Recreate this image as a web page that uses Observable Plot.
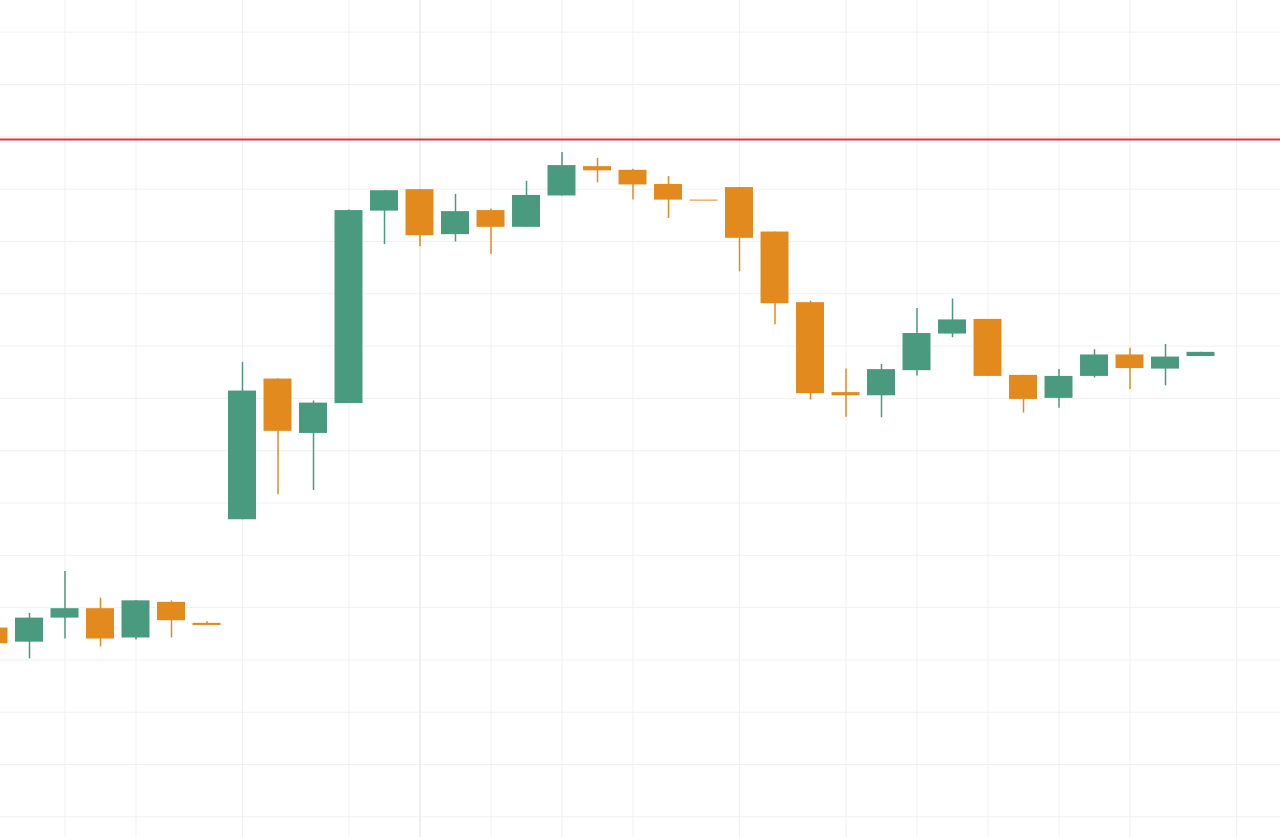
<!DOCTYPE html>
<html>
<head>
<meta charset="utf-8">
<script src="https://cdn.jsdelivr.net/npm/d3@7"></script>
<script src="https://cdn.jsdelivr.net/npm/@observablehq/plot@0.6"></script>
<style>
  html, body { margin: 0; padding: 0; background: #ffffff; }
  #chart svg { display: block; }
</style>
</head>
<body>
<div id="chart"></div>
<script>
// Candle index (evenly spaced sessions)
const idx    = [0,1,2,3,4,5,6,7,8,9,10,11,12,13,14,15,16,17,18,19,20,21,22,23,24,25,26,27,28,29,30,31,32,33,34];
const open   = [36.1,33.4,38.0,39.8,34.2,41.0,37.0,56.8,83.7,73.3,79.0,115.8,119.9,111.3,115.9,112.7,118.7,124.3,123.6,120.9,117.9,120.3,111.8,98.3,81.1,80.5,85.3,92.3,95.1,84.4,80.0,84.2,88.3,85.6,88.0];
const high   = [36.1,38.9,46.9,41.8,41.3,41.3,37.3,86.9,83.7,79.5,116.0,119.7,119.9,119.0,116.2,121.5,127.0,125.9,123.8,122.4,117.9,120.3,111.8,98.6,85.6,86.5,97.2,99.0,95.1,84.4,85.5,89.3,89.6,90.3,88.8];
const low    = [33.1,30.2,34.0,32.5,33.8,34.2,36.6,56.8,61.6,62.4,79.0,109.4,109.0,109.9,107.5,112.7,118.7,121.2,117.9,114.4,117.9,104.2,94.1,79.7,76.4,76.3,84.3,91.6,84.2,77.2,78.1,83.9,81.7,82.4,88.0];
const close  = [33.1,38.0,39.8,34.0,41.3,37.5,36.6,81.4,73.7,79.1,115.9,119.7,111.1,115.7,112.7,118.8,124.5,123.5,120.8,117.9,117.9,110.6,98.1,80.9,80.5,85.5,92.4,95.0,84.2,79.8,84.2,88.3,85.7,87.9,88.8];

// Gridline positions
const xGridTicks = [2,4,7,10,12,14,16,18,21,24,26,28,30,32,35];
const xGridStrong = [12];
const yGridTicks = [0,10,20,30,40,50,60,70,80,90,100,110,120,130,140,150];
const resistance = [129.5];

const upColor = "#4a9a80";
const downColor = "#e38a1e";

const candles = idx.map((i, k) => ({
  i, open: open[k], high: high[k], low: low[k], close: close[k],
  up: close[k] > open[k]
}));

const half = 0.394;

const chart = Plot.plot({
  width: 1280,
  height: 837,
  margin: 0,
  marginTop: 0, marginRight: 0, marginBottom: 0, marginLeft: 0,
  x: { domain: [0.1831, 36.239], axis: null },
  y: { domain: [-3.94, 156.06], axis: null },
  style: { background: "#ffffff" },
  marks: [
    Plot.ruleY(yGridTicks, { stroke: "#f1f1f1", strokeWidth: 1 }),
    Plot.ruleX(xGridTicks, { stroke: "#f1f1f1", strokeWidth: 1 }),
    Plot.ruleX(xGridStrong, { stroke: "#e6e6e6", strokeWidth: 1 }),
    Plot.ruleY(resistance, { stroke: "#d8393f", strokeWidth: 2 }),
    Plot.ruleX(candles, {
      x: "i", y1: "low", y2: "high",
      stroke: d => d.up ? upColor : downColor,
      strokeWidth: 1.5
    }),
    Plot.rect(candles, {
      x1: d => d.i - half, x2: d => d.i + half,
      y1: d => Math.min(d.open, d.close), y2: d => Math.max(d.open, d.close),
      fill: d => d.up ? upColor : downColor
    }),
    Plot.ruleY(candles.filter(d => d.open === d.close), {
      y: "close", x1: d => d.i - half, x2: d => d.i + half,
      stroke: downColor, strokeWidth: 1
    })
  ]
});

document.getElementById("chart").appendChild(chart);
</script>
</body>
</html>
